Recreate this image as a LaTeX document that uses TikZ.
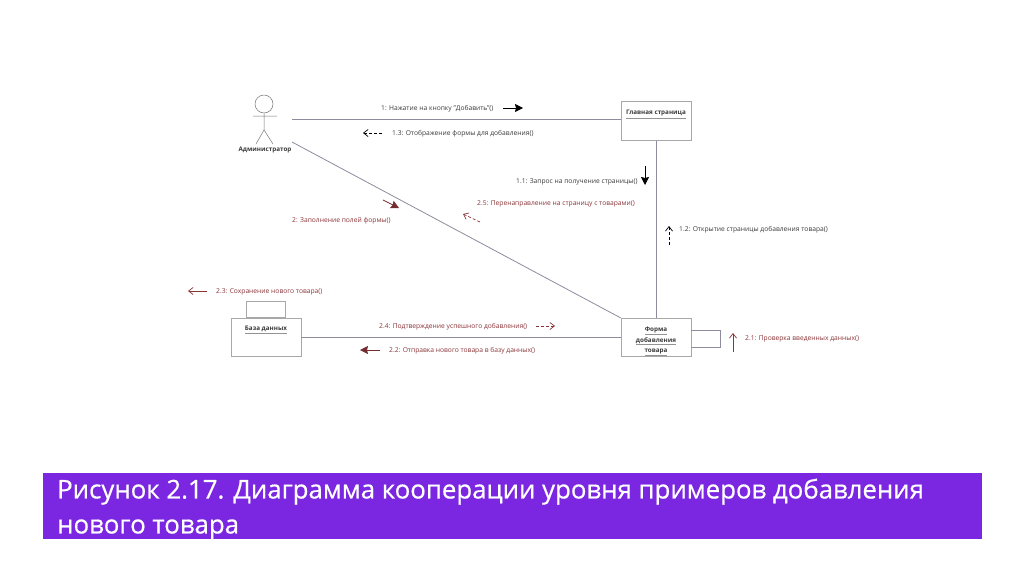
\documentclass[tikz,border=0pt]{standalone}
\usepackage{fontspec}
\setmainfont{Open Sans}
\newfontfamily\titlefont[FakeBold=0.6]{Open Sans}
\usepackage{tikz}
\usetikzlibrary{arrows.meta,positioning,calc}
\definecolor{msgred}{HTML}{8A3438}
\definecolor{msgdark}{HTML}{3A3A3A}
\definecolor{linkgray}{HTML}{8C8C9C}
\definecolor{boxgray}{HTML}{A8A8A8}
\definecolor{barviolet}{HTML}{7B27E1}
\newcommand{\objul}[1]{{\color{msgdark!55}\underline{\color{msgdark}#1}}}

\begin{document}
\begin{tikzpicture}[
  x=1pt, y=-1pt,
  objbox/.style={draw=boxgray, line width=0.8pt, minimum width=70pt, minimum height=38.5pt, inner sep=0pt},
  objname/.style={font=\fontsize{6.3}{10.4}\selectfont\bfseries, text=msgdark, align=center, inner sep=0pt},
  link/.style={draw=linkgray, line width=0.8pt},
  stick/.style={draw=msgdark!70, line width=0.5pt},
  msg/.style={font=\fontsize{6.7}{8}\selectfont, text=msgdark, anchor=west, inner sep=0pt, text height=6pt, text depth=0.5pt},
  rmsg/.style={msg, text=msgred},
  sync/.style={-{Stealth[length=8pt,width=8pt,inset=1pt]}, line width=0.8pt, draw=black},
  ret/.style={-{Straight Barb[length=4.5pt,width=7pt]}, line width=0.7pt, dash pattern=on 3pt off 2pt, draw=black},
  rsync/.style={sync, draw=msgred!85!black},
  rret/.style={ret, draw=msgred},
  rasync/.style={ret, solid, draw=msgred}
]
  \useasboundingbox (0,0) rectangle (1024,574);

  % actor
  \node[draw=msgdark!70, line width=0.5pt, circle, minimum size=18pt, inner sep=0pt] (head) at (264,104) {};
  \coordinate (hip) at (264,130);
  \coordinate (armL) at (253,116);
  \coordinate (armR) at (277,116);
  \coordinate (legL) at (256,144);
  \coordinate (legR) at (273,144);
  \draw[stick] (head.south) -- (hip) (armL) -- (armR) (legL) -- (hip) -- (legR);
  \node[objname] (admin) at (265,149.5) {Администратор};
  \coordinate (adminTop) at (292,119);
  \coordinate (adminLow) at (292,142);

  % objects
  \node[objbox] (mainpage) at (656,121) {};
  \node[objname] (mainpageName) at (656,114.5) {\objul{Главная страница}};
  \node[objbox] (form) at (656,337.5) {};
  \node[objname] (formName) at (656,341.5) {\objul{Форма}\\\objul{добавления}\\\objul{товара}};
  \node[objbox] (db) at (266,337.5) {};
  \node[objname] (dbName) at (266,330) {\objul{База данных}};
  \node[draw=boxgray, line width=0.8pt, minimum width=39pt, minimum height=16pt, inner sep=0pt, anchor=south] (dbTab) at (db.north) {};

  % links
  \draw[link] (adminTop) -- (adminTop -| mainpage.west);
  \draw[link] (adminLow) -- (form.north west);
  \draw[link] (mainpage.south) -- (form.north);
  \draw[link] (db.east) -- (form.west);
  \draw[link] ([yshift=7.5pt]form.east) -- ++(29,0) -- ++(0,17) -- ([yshift=-9.5pt]form.east);

  % messages
  \node[msg] (m1) at (381,108) {1: Нажатие на кнопку "Добавить"()};
  \draw[sync] (503,108) -- (m1.east -| 523,0);
  \node[msg] (m13) at (392,133) {1.3: Отображение формы для добавления()};
  \draw[ret] ([xshift=-10pt]m13.west) -- ++(-19,0);
  \node[msg] (m11) at (516,181) {1.1: Запрос на получение страницы()};
  \draw[sync] (645,166) -- (645,185);
  \node[msg] (m12) at (679,229) {1.2: Открытие страницы добавления товара()};
  \draw[ret] ([xshift=-10pt,yshift=-16pt]m12.west) -- ++(0,-19);
  \node[rmsg] (m2) at (292,220) {2: Заполнение полей формы()};
  \draw[rsync] (383,200) -- (399,208);
  \node[rmsg] (m25) at (477,203) {2.5: Перенаправление на страницу с товарами()};
  \draw[rret] (480,222) -- (463,214);
  \node[rmsg] (m23) at (216,291) {2.3: Сохранение нового товара()};
  \draw[rasync] ([xshift=-9pt]m23.west) -- ++(-19,0);
  \node[rmsg] (m24) at (379,326) {2.4: Подтверждение успешного добавления()};
  \draw[rret] (536,326) -- (555,326);
  \node[rmsg] (m22) at (389,350) {2.2: Отправка нового товара в базу данных()};
  \draw[rsync] ([xshift=-9pt]m22.west) -- ++(-20,0);
  \node[rmsg] (m21) at (745,338) {2.1: Проверка введенных данных()};
  \draw[rasync] ([xshift=-12pt,yshift=-14pt]m21.west) -- ++(0,-19);

  % caption
  \node[fill=barviolet, minimum width=939pt, minimum height=66pt, inner sep=0pt, anchor=north west] (bar) at (43,473) {};
  \node[text=white, font=\titlefont\fontsize{25.8}{35}\selectfont, align=left, anchor=north west, inner sep=0pt] (title) at (57,478.5)
    {Рисунок 2.17. Диаграмма кооперации уровня примеров добавления\\нового товара};
\end{tikzpicture}
\end{document}
